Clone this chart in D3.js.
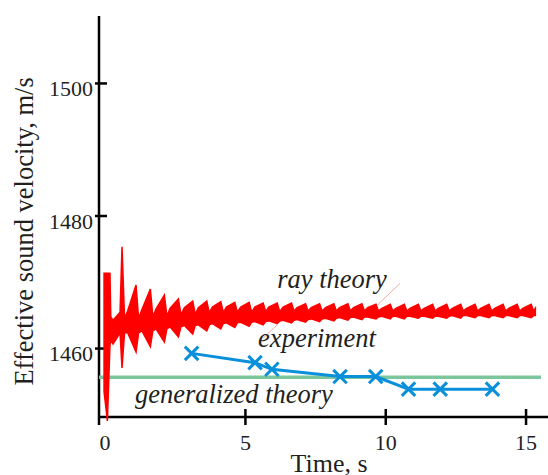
<!DOCTYPE html>
<html>
<head>
<meta charset="utf-8">
<script src="https://cdn.jsdelivr.net/npm/d3@7.9.0/dist/d3.min.js"></script>
<style>
  body { margin: 0; background: #fff; }
  svg { display: block; }
  text { font-family: "Liberation Serif", "Times New Roman", serif; fill: #231f20; }
  .note { font-style: italic; }
</style>
</head>
<body>
<svg id="chart" width="548" height="475"></svg>
<script>
// axis ticks
const timeTicks = [0, 5, 10, 15];
const velTicks = [1460, 1480, 1500];

// ray theory: first drop, then one spike per ~0.5 s
const startT  = [-0.02, 0.10, 0.19, 0.22, 0.30];
const startHi = [1471.3, 1471.3, 1471.3, 1464.7, 1464.2];
const startLo = [1453.4, 1449.0, 1460.4, 1461.2, 1460.6];

const spikeT = [0.62, 1.12, 1.63, 2.13, 2.63, 3.14, 3.64, 4.14, 4.64, 5.15,
  5.65, 6.15, 6.66, 7.16, 7.66, 8.17, 8.67, 9.17, 9.67, 10.18,
  10.68, 11.18, 11.69, 12.19, 12.69, 13.2, 13.7, 14.2, 14.7, 15.2];
const peakV = [1475.3, 1469.5, 1468.9, 1468.0, 1467.4, 1467.1, 1467.1, 1467.0, 1466.9, 1466.9,
  1466.8, 1466.8, 1466.8, 1466.7, 1466.7, 1466.7, 1466.7, 1466.7, 1466.6, 1466.6,
  1466.6, 1466.6, 1466.6, 1466.6, 1466.6, 1466.6, 1466.6, 1466.6, 1466.6, 1466.6];
const troughV = [1457.0, 1459.4, 1460.2, 1460.9, 1461.7, 1462.1, 1462.6, 1462.9, 1463.1, 1463.3,
  1463.5, 1463.7, 1463.8, 1463.9, 1464.0, 1464.1, 1464.2, 1464.3, 1464.4, 1464.4,
  1464.4, 1464.5, 1464.5, 1464.5, 1464.5, 1464.6, 1464.6, 1464.6, 1464.6, 1464.6];
const topBefore = [1465.4, 1465.6, 1465.8, 1465.9, 1466.0, 1466.1, 1466.1, 1466.2, 1466.2, 1466.2,
  1466.2, 1466.2, 1466.2, 1466.1, 1466.1, 1466.1, 1466.1, 1466.1, 1466.1, 1466.0,
  1466.0, 1466.0, 1466.0, 1466.0, 1466.0, 1466.0, 1466.0, 1466.0, 1466.0, 1466.0];
const topAfter = [1464.5, 1464.5, 1464.7, 1464.8, 1465.0, 1465.1, 1465.3, 1465.4, 1465.4, 1465.4,
  1465.5, 1465.5, 1465.6, 1465.6, 1465.6, 1465.6, 1465.6, 1465.6, 1465.6, 1465.6,
  1465.6, 1465.6, 1465.6, 1465.6, 1465.6, 1465.6, 1465.6, 1465.6, 1465.6, 1465.6];
const bodyBottom = [1462.3, 1462.3, 1462.6, 1462.9, 1463.2, 1463.4, 1463.5, 1463.7, 1463.8, 1463.9,
  1464.0, 1464.1, 1464.2, 1464.3, 1464.4, 1464.5, 1464.6, 1464.7, 1464.7, 1464.8,
  1464.8, 1464.8, 1464.8, 1464.8, 1464.9, 1464.9, 1464.9, 1464.9, 1464.9, 1464.9];
const endT = [15.35];
const endHi = [1466.0];
const endLo = [1464.9];

// experiment
const expT = [3.10, 5.36, 5.96, 8.39, 9.66, 10.83, 11.96, 13.82];
const expV = [1459.2, 1457.8, 1456.8, 1455.7, 1455.7, 1453.8, 1453.8, 1453.8];

// generalized theory
const genT = [-0.2, 15.55];
const genV = [1455.6, 1455.6];

// curve labels and their thin leader lines
const labelText = ["ray theory", "experiment", "generalized theory"];
const labelT = [6.15, 5.47, 1.08];
const labelV = [1469.1, 1460.15, 1451.7];
const leaderT = [[10.53, 9.72], [6.18, 5.65]];
const leaderV = [[1469.77, 1466.49], [1463.62, 1461.51]];

const svg = d3.select('#chart');
const x = d3.scaleLinear().domain([-0.2, 15.8]).range([99, 548]);
const y = d3.scaleLinear().domain([1449.6, 1510.1]).range([417, 16]);

const line = d3.line().x(d => x(d[0])).y(d => y(d[1]));

// axes
svg.append('line')
  .attr('x1', x(-0.2)).attr('x2', x(-0.2))
  .attr('y1', y(1510.1)).attr('y2', y(1449.6) + 8)
  .attr('stroke', '#000').attr('stroke-width', 2.5);
svg.append('line')
  .attr('x1', x(-0.2)).attr('x2', x(15.8))
  .attr('y1', y(1449.6)).attr('y2', y(1449.6))
  .attr('stroke', '#000').attr('stroke-width', 2.5);

const yAxis = svg.append('g')
  .attr('transform', `translate(${x(-0.2)},0)`)
  .call(d3.axisLeft(y).tickValues(velTicks).tickFormat(d3.format('d')).tickSize(4).tickPadding(6));
yAxis.attr('font-family', null);
yAxis.select('.domain').remove();
yAxis.selectAll('.tick line').attr('x1', 8).attr('x2', -4)
  .attr('stroke', '#000').attr('stroke-width', 2.5);
yAxis.selectAll('.tick text')
  .attr('dy', 12.5).attr('x', -6)
  .style('font-size', '22px');

const xAxis = svg.append('g')
  .attr('transform', `translate(0,${y(1449.6)})`)
  .call(d3.axisBottom(x).tickValues(timeTicks).tickFormat(d3.format('d')).tickSize(8).tickPadding(0));
xAxis.attr('font-family', null);
xAxis.select('.domain').remove();
xAxis.selectAll('.tick line').attr('y1', -8).attr('y2', 8)
  .attr('stroke', '#000').attr('stroke-width', 2.5)
  .attr('display', d => d === 0 ? 'none' : null);
xAxis.selectAll('.tick text')
  .attr('y', 33).attr('dy', 0)
  .style('font-size', '22px');

// axis titles
svg.append('text')
  .attr('x', x(8.0)).attr('y', 472)
  .attr('text-anchor', 'middle')
  .style('font-size', '26px')
  .text('Time, s');
svg.append('text')
  .attr('transform', `translate(33,${y(1477.6)}) rotate(-90)`)
  .attr('text-anchor', 'middle')
  .style('font-size', '26.5px')
  .text('Effective sound velocity, m/s');

// generalized theory
svg.append('path')
  .attr('d', line(genT.map((t, i) => [t, genV[i]])))
  .attr('fill', 'none').attr('stroke', '#7cc69c').attr('stroke-width', 3.5);

// ray theory, drawn as a filled band between its upper and lower edges
const riseW = 0.3, fallW = 0.09;
const rayPts = startT.map((t, i) => [t, startHi[i], startLo[i]]);
spikeT.forEach((t, k) => {
  const w = k === 0 ? 0.07 : riseW;
  rayPts.push([t - w, topBefore[k], bodyBottom[k]]);
  rayPts.push([t, peakV[k], troughV[k]]);
  rayPts.push([t + fallW, topAfter[k], bodyBottom[k]]);
});
endT.forEach((t, i) => rayPts.push([t, endHi[i], endLo[i]]));

const rayArea = d3.area()
  .x(d => x(d[0]))
  .y0(d => y(d[2]))
  .y1(d => y(d[1]));
svg.append('path')
  .attr('d', rayArea(rayPts))
  .attr('fill', '#ff0000').attr('stroke', '#ff0000').attr('stroke-width', 1.5)
  .attr('stroke-linejoin', 'miter');

// experiment
const expPts = expT.map((t, i) => [t, expV[i]]);
svg.append('path')
  .attr('d', line(expPts))
  .attr('fill', 'none').attr('stroke', '#0a8fdb').attr('stroke-width', 3);
svg.selectAll('path.cross')
  .data(expPts)
  .join('path')
  .attr('class', 'cross')
  .attr('d', d3.symbol(d3.symbolX, 120))
  .attr('transform', d => `translate(${x(d[0])},${y(d[1])})`)
  .attr('fill', 'none').attr('stroke', '#0a8fdb').attr('stroke-width', 3);

// leaders
leaderT.forEach((ts, i) => {
  svg.append('path')
    .attr('d', line(ts.map((t, j) => [t, leaderV[i][j]])))
    .attr('fill', 'none').attr('stroke', '#f7a8a8').attr('stroke-width', 1);
});

// labels
labelText.forEach((s, i) => {
  svg.append('text')
    .attr('class', 'note')
    .attr('x', x(labelT[i])).attr('y', y(labelV[i]))
    .style('font-size', '26.5px')
    .text(s);
});
</script>
</body>
</html>
